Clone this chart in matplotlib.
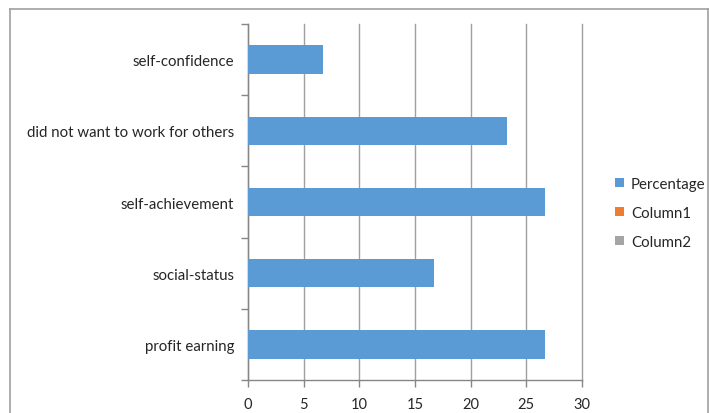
import matplotlib.pyplot as plt
from matplotlib.patches import Patch
from matplotlib.lines import Line2D

categories = ["profit earning", "social-status", "self-achievement",
              "did not want to work for others", "self-confidence"]
percentage = [26.7, 16.7, 26.7, 23.3, 6.7]
series_names = ["Percentage", "Column1", "Column2"]
series_colors = ["#5b9bd5", "#ed7d31", "#a5a5a5"]

plt.rcParams["font.family"] = ["Lato", "DejaVu Sans"]

fig = plt.figure(figsize=(7.09, 4.14), dpi=100)
ax = fig.add_axes([0.3498, 0.0797, 0.4711, 0.8599])

pos = list(range(len(categories)))
ax.barh(pos, percentage, height=0.4, color=series_colors[0], zorder=3)

ax.set_xlim(0, 30)
ax.set_ylim(-0.5, len(categories) - 0.5)
ax.set_xticks(range(0, 31, 5))
ax.set_yticks(pos)
ax.set_yticklabels(categories)
ax.set_yticks([p - 0.5 for p in range(len(categories) + 1)], minor=True)

ax.grid(axis="x", color="#a0a0a0", linewidth=1, zorder=0)
for gl in ax.get_xgridlines():
    gl.set_clip_on(False)
ax.tick_params(axis="y", which="major", length=0, pad=10, labelsize=10.8, labelcolor="#262626")
ax.tick_params(axis="y", which="minor", length=5, color="#868686", width=1)
ax.tick_params(axis="x", length=5, color="#868686", width=1, labelsize=10.5,
               labelcolor="#262626", pad=7)

for side in ["top", "right"]:
    ax.spines[side].set_visible(False)
for side in ["left", "bottom"]:
    ax.spines[side].set_color("#868686")
    ax.spines[side].set_linewidth(1)

handles = [Patch(facecolor=c, edgecolor="none") for c in series_colors]
fig.legend(handles, series_names, loc="center left",
           bbox_to_anchor=(601 / 709, 1 - 214 / 414), frameon=False,
           fontsize=10.8, handlelength=0.6, handleheight=0.6,
           handletextpad=0.5, labelspacing=1.0, labelcolor="#262626")

# chart area frame
W, H = 709, 414
fx = lambda px: px / W
fy = lambda py: 1 - py / H
frame_kw = dict(color="#a0a0a0", linewidth=1.2, transform=fig.transFigure)
fig.add_artist(Line2D([fx(9.5), fx(9.5)], [fy(9.5), 0], **frame_kw))
fig.add_artist(Line2D([fx(9.5), fx(707.5)], [fy(9.5), fy(9.5)], **frame_kw))
fig.add_artist(Line2D([fx(707.5), fx(707.5)], [fy(9.5), 0], **frame_kw))

fig.savefig("out.png", dpi=100)
